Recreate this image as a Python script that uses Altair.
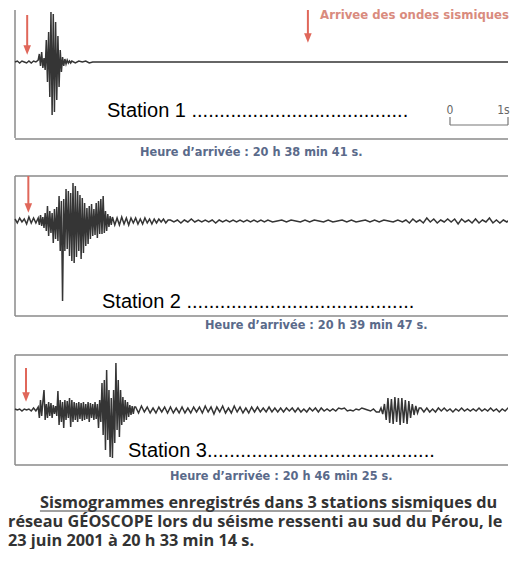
import altair as alt
import pandas as pd

# ---------------- data ----------------
# time axis in seconds (scale bar: 1 s), amplitude in arbitrary units (up = positive)
T_MIN, T_MAX = -0.1207, 8.5

# Station 1 : (start time, sample step, samples)
S1_NOISE = [0, 1, -1, 1, 0, -1, 1, -1, 1, 0]
S1_BURST = [2, 8, -4, 10, -6, 4, -8, 22, -20, 30, -35, 50, -53, 48, -50, 40,
            -38, 26, -25, 12, -10, 5, -4, 3, -2, 2, -1, 1, -1]
S1_CODA = [1, -1, 1, 0, 1, -1, 0]
S1_FLAT = [0, 0]
STATION1 = [(0.0, 0.04, S1_NOISE), (0.40, 0.02, S1_BURST),
            (0.98, 0.06, S1_CODA), (1.40, 7.16, S1_FLAT)]

# Station 2
S2_NOISE = [2, -2, 3, -1, 2, -3, 4, -2, 3, -2]
S2_BURST = [3, -4, 6, -5, 4, -7, 8, -10, 15, -15, 10, -12, 8, -22, 12, -18,
            14, -20, 25, -30, 20, -80, 22, -30, 32, -28, 30, -35, 28, -40, 38, -42,
            35, -36, 30, -30, 26, -38, 23, -32, 18, -25, 13, -23, 15, -18, 17, -15,
            12, -14, 18, -17, 20, -13, 22, -13, 25, -12, 10, -10, 7, -6, 5, -4]
S2_CODA1 = [4, -4, 3, -4, 4, -3, 3, -4, 3, -2, 3, -3, 2, -3, 3, -2, 2, -3, 2, -2,
            2, -1, 2, -2, 1]
S2_CODA2 = [1, -1, 1, -2, 1, -1, 2, -1, 1, -1, 1, -1, 1, -2, 1, -1, 1, -1, 1, -1,
            1, -1, 1, -1, 1, -1, 1, -1]
S2_QUIET = [1, -1, 0, 1, -1, 1, 0, -1, 1, -1, 1, 0, -1, 1, -1, 0, 1, -1, 1, -1,
            0, 1, -1, 1, -1, 1, 0, -1, 1, -1]
S2_SURF = [1, -2, 2, -1, 1, -2, 3, -1, 2, -2, 1, -1, 2, -1, 2, -3, 2, -1, 1, -2,
           2, -2, 1, -1, 3, -2, 1, -2, 1, -1, 2]
STATION2 = [(0.0, 0.04, S2_NOISE), (0.40, 0.02, S2_BURST), (1.68, 0.04, S2_CODA1),
            (2.68, 0.06, S2_CODA2), (4.36, 0.08, S2_QUIET), (6.74, 0.06, S2_SURF)]

# Station 3
S3_NOISE = [1, 0, 1, -1, 1, 0, 1, -1, 2, -1]
S3_BURST = [3, -8, 10, -6, 8, 20, -10, 6, -8, 8, -6, 7, -8, 5, -4, 4, -6, 19, -15, 10,
            -12, 8, -18, 10, -10, 9, -8, 12, -17, 10, -12, 8, -10, 7, -12, 8, -9, 7, -11, 8,
            -10, 6, -9, 8, -12, 7, -8, 6, -10, 8, -9, 6, -18, 10, -12, 27, -25, 30, -40, 40,
            -30, 20, -47, 12, -48, 20, -33, 47, -20, 30, -27, 20, -15, 13, -12, 10, -10, 8, -7, 5,
            -5, 4, -4, 3]
S3_CODA = [3, -3, 4, -2, 3, -3, 2, -3, 3, -2, 3, -3, 3, -3, 2, -3, 3, -3, 2, -3, 3, -2,
           3, -3, 4, -2, 3, -4, 3, -2, 4, -3, 2, -3, 4, -2, 3, -3, 2, -3, 3, -2, 3, -2,
           2, -2, 3, -2, 2, -2, 2, -2, 2, -1, 2, -2, 2, -2, 1, -2, 2, -1, 2, -2, 2, -1,
           1, -1, 1, -1, 2, 1, 2, -1, 0, -1, 1, 0, 2, 1, 0, -1, 1, -2]
S3_SURF = [-2, 2, -4, 6, -10, 12, -13, 11, -14, 13, -12, 12, -15, 12, -13, 10, -14, 9,
           -8, 6, -5, 4, -3, 2]
S3_TAIL = [2, -2, 2, -2, 1, -2, 2, -1, 2, -1, 1, -2, 1, -1, 2, -1, 1, -1, 1, -1, 2, -1,
           1, -1, 2, -1, 1, -2, 1, -1, 2, -1]
STATION3 = [(0.0, 0.04, S3_NOISE), (0.40, 0.02, S3_BURST), (2.08, 0.05, S3_CODA),
            (6.28, 0.03, S3_SURF), (7.00, 0.05, S3_TAIL)]

STATION_LABELS = ["Station 1 " + "." * 39, "Station 2 " + "." * 41, "Station 3" + "." * 41]
HEURES = ["Heure d\u2019arrivée : 20 h 38 min 41 s.",
          "Heure d\u2019arrivée : 20 h 39 min 47 s.",
          "Heure d\u2019arrivée : 20 h 46 min 25 s."]
ARRIVAL_LABEL = "Arrivee des ondes sismiques"
SCALE_LABELS = ["0", "1s"]
CAPTION = ["Sismogrammes enregistrés dans 3 stations sismiques du",
           "réseau GÉOSCOPE lors du séisme ressenti au sud du Pérou, le",
           "23 juin 2001 à 20 h 33 min 14 s."]

# ---------------- styles ----------------
WAVE = "#353535"
BOX = "#8a8a8a"
RED = "#e0675a"
RED_TEXT = "#d98b7e"
BLUE = "#5a6a8a"
NARROW = "Liberation Sans Narrow, DejaVu Sans Condensed, sans-serif"
W = 500


def wave_df(segments):
    rows = []
    for t0, dt, vals in segments:
        for i, v in enumerate(vals):
            rows.append({"t": t0 + i * dt, "a": v})
    return pd.DataFrame(rows)


def band(segments, top, bottom, height, box, arrow, station, heure):
    xs = alt.Scale(domain=[T_MIN, T_MAX], nice=False, zero=False)
    ys = alt.Scale(domain=[bottom, top], nice=False, zero=False)

    def enc(**kw):
        e = {"x": alt.X("t:Q", scale=xs, axis=None),
             "y": alt.Y("a:Q", scale=ys, axis=None)}
        e.update(kw)
        return e

    layers = []
    layers.append(alt.Chart(pd.DataFrame(box)).mark_rule(color=BOX, strokeWidth=1.5)
                  .encode(**enc(x2="t2:Q", y2="a2:Q")))
    layers.append(alt.Chart(wave_df(segments)).mark_line(color=WAVE, strokeWidth=1.5, clip=True)
                  .encode(**enc(order="t:Q")))
    # arrow: shaft + head
    at, atop, ahead = arrow
    layers.append(alt.Chart(pd.DataFrame({"t": [at], "t2": [at], "a": [atop], "a2": [ahead]}))
                  .mark_rule(color=RED, strokeWidth=2).encode(**enc(x2="t2:Q", y2="a2:Q")))
    layers.append(alt.Chart(pd.DataFrame({"t": [at], "a": [ahead]}))
                  .mark_point(shape="M -0.8 -1 L 0.8 -1 L 0 1 Z", filled=True, size=90,
                              color=RED, opacity=1)
                  .encode(**enc()))
    st, sa, slabel = station
    layers.append(alt.Chart(pd.DataFrame({"t": [st], "a": [sa], "label": [slabel]}))
                  .mark_text(align="left", baseline="alphabetic", font="Liberation Sans, Arial",
                             fontSize=20, color="#000000")
                  .encode(**enc(text="label:N")))
    ht, ha, hlabel = heure
    layers.append(alt.Chart(pd.DataFrame({"t": [ht], "a": [ha], "label": [hlabel]}))
                  .mark_text(align="left", baseline="middle", font=NARROW, fontWeight="bold",
                             fontSize=12.6, color=BLUE)
                  .encode(**enc(text="label:N")))
    return layers, enc, height


# ---- band 1 ----
l1, enc1, h1 = band(
    STATION1, 54, -108, 162,
    {"t": [0, 0], "t2": [0, T_MAX], "a": [52, -77], "a2": [-76, -77]},
    (0.21, 47, 12), (1.586, -55, STATION_LABELS[0]), (2.155, -90, HEURES[0]))
# legend arrow + label
l1.append(alt.Chart(pd.DataFrame({"t": [5.05], "t2": [5.05], "a": [52], "a2": [24]}))
          .mark_rule(color=RED, strokeWidth=2).encode(**enc1(x2="t2:Q", y2="a2:Q")))
l1.append(alt.Chart(pd.DataFrame({"t": [5.05], "a": [24]}))
          .mark_point(shape="M -0.8 -1 L 0.8 -1 L 0 1 Z", filled=True, size=90,
                      color=RED, opacity=1).encode(**enc1()))
l1.append(alt.Chart(pd.DataFrame({"t": [5.26], "a": [47], "label": [ARRIVAL_LABEL]}))
          .mark_text(align="left", baseline="middle", font=NARROW, fontWeight="bold",
                     fontSize=13, color=RED_TEXT).encode(**enc1(text="label:N")))
# time scale bar 0 - 1 s
l1.append(alt.Chart(pd.DataFrame({"t": [7.5, 7.5, 8.5], "t2": [8.5, 7.5, 8.5],
                                  "a": [-63, -63, -63], "a2": [-63, -55, -55]}))
          .mark_rule(color="#777777", strokeWidth=1.2).encode(**enc1(x2="t2:Q", y2="a2:Q")))
l1.append(alt.Chart(pd.DataFrame({"t": [7.5], "a": [-48], "label": SCALE_LABELS[:1]}))
          .mark_text(align="center", baseline="middle", font=NARROW, fontSize=12,
                     color="#666666").encode(**enc1(text="label:N")))
l1.append(alt.Chart(pd.DataFrame({"t": [8.53], "a": [-48], "label": SCALE_LABELS[1:]}))
          .mark_text(align="right", baseline="middle", font=NARROW, fontSize=12,
                     color="#666666").encode(**enc1(text="label:N")))
b1 = alt.layer(*l1).properties(width=W, height=h1)

# ---- band 2 ----
l2, enc2, h2 = band(
    STATION2, 51, -109, 160,
    {"t": [0, 0, 0], "t2": [T_MAX, 0, T_MAX], "a": [45, 45, -95], "a2": [45, -95, -95]},
    (0.23, 45, 13), (1.50, -87, STATION_LABELS[1]), (3.276, -104, HEURES[1]))
b2 = alt.layer(*l2).properties(width=W, height=h2)

# ---- band 3 ----
l3, enc3, h3 = band(
    STATION3, 80, -72, 152,
    {"t": [0, 0, 0], "t2": [T_MAX, 0, T_MAX], "a": [55, 55, -55], "a2": [55, -55, -55]},
    (0.19, 42, 13), (1.948, -47, STATION_LABELS[2]), (2.672, -66, HEURES[2]))
b3 = alt.layer(*l3).properties(width=W, height=h3)

# ---- caption ----
CAP_H = 66
xs = alt.Scale(domain=[T_MIN, T_MAX], nice=False, zero=False)
ys = alt.Scale(domain=[CAP_H, 0], nice=False, zero=False)
cap_df = pd.DataFrame({"t": [0.43, T_MIN, T_MIN], "a": [21, 40, 58.5], "label": CAPTION})
cap_text = alt.Chart(cap_df).mark_text(
    align="left", baseline="middle", font="Open Sans", fontWeight=700, fontSize=16.3,
    color="#333333"
).encode(x=alt.X("t:Q", scale=xs, axis=None), y=alt.Y("a:Q", scale=ys, axis=None),
         text="label:N")
cap_rule = alt.Chart(pd.DataFrame({"t": [0.43], "t2": [7.19], "a": [29]})).mark_rule(
    color="#444444", strokeWidth=1.2
).encode(x=alt.X("t:Q", scale=xs, axis=None), x2="t2:Q",
         y=alt.Y("a:Q", scale=ys, axis=None))
b4 = alt.layer(cap_text, cap_rule).properties(width=W, height=CAP_H)

chart = alt.vconcat(b1, b2, b3, b4, spacing=0, bounds="flush").properties(
    padding=0
).configure_view(stroke=None)

chart.save("out.html", embed_options={"renderer": "svg", "actions": False})
